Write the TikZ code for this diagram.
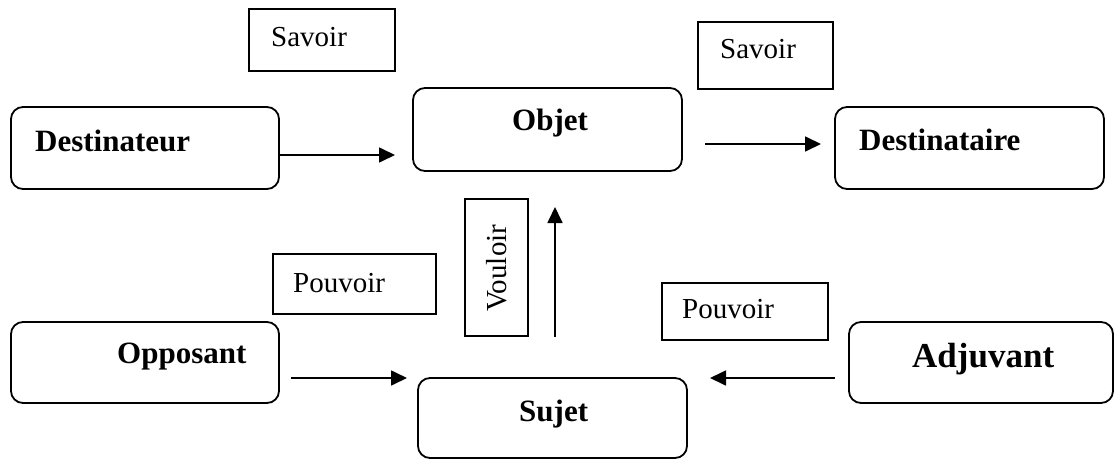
\documentclass[tikz,border=0pt]{standalone}
\usepackage{fontspec}
\setmainfont{Liberation Serif}
\usetikzlibrary{arrows.meta}
\tikzset{
  rbox/.style={draw, line width=1.8pt, rounded corners=12pt, inner sep=0pt},
  sbox/.style={draw, line width=1.8pt, inner sep=0pt},
  blbl/.style={inner sep=0pt, anchor=base west, font=\fontsize{31}{35}\selectfont\bfseries},
  rlbl/.style={inner sep=0pt, anchor=base west, font=\fontsize{29}{33}\selectfont},
  arr/.style={line width=1.7pt, -{Triangle[length=16pt,width=15pt]}}
}
\begin{document}
\begin{tikzpicture}[x=1pt,y=-1pt]
\useasboundingbox (0,0) rectangle (1115,460);
% rounded boxes
\node[rbox, minimum width=268pt, minimum height=82pt] (dest) at (145,148) {};
\node[rbox, minimum width=269pt, minimum height=83pt] (obj) at (547.5,129.5) {};
\node[rbox, minimum width=269pt, minimum height=82pt] (desta) at (969.5,148) {};
\node[rbox, minimum width=268pt, minimum height=81pt] (opp) at (145,362.5) {};
\node[rbox, minimum width=269pt, minimum height=80pt] (suj) at (552.5,418) {};
\node[rbox, minimum width=264pt, minimum height=81pt] (adj) at (981,362.5) {};
% square boxes
\node[sbox, minimum width=146pt, minimum height=62pt] (sav1) at (322,40) {};
\node[sbox, minimum width=135pt, minimum height=67pt] (sav2) at (765.5,55.5) {};
\node[sbox, minimum width=163pt, minimum height=60pt] (pou1) at (354.5,284) {};
\node[sbox, minimum width=166pt, minimum height=57pt] (pou2) at (745,311.5) {};
\node[sbox, minimum width=63pt, minimum height=137pt] (vou) at (496.5,267.5) {};
% labels
\node[blbl] (tdest) at (35,151) {Destinateur};
\node[blbl] (tobj) at (512,130) {Objet};
\node[blbl] (tdesta) at (859,150) {Destinataire};
\node[blbl] (topp) at (117,363) {Opposant};
\node[blbl] (tsuj) at (519,421) {Sujet};
\node[blbl, font=\fontsize{35}{40}\selectfont\bfseries] (tadj) at (912,367) {Adjuvant};
\node[rlbl] (tsav1) at (271,47) {Savoir};
\node[rlbl] (tsav2) at (720,59) {Savoir};
\node[rlbl] (tpou1) at (293,292) {Pouvoir};
\node[rlbl] (tpou2) at (682,318) {Pouvoir};
\node[inner sep=0pt, rotate=90, font=\fontsize{29}{33}\selectfont] (tvou) at (497,268) {Vouloir};
% arrow end points
\coordinate (a1s) at (279,155); \coordinate (a1e) at (395,155);
\coordinate (a2s) at (705,144); \coordinate (a2e) at (821,144);
\coordinate (a3s) at (555,337); \coordinate (a3e) at (555,207);
\coordinate (a4s) at (291,378); \coordinate (a4e) at (407,378);
\coordinate (a5s) at (835,378); \coordinate (a5e) at (710,378);
\draw[arr] (a1s) -- (a1e);
\draw[arr] (a2s) -- (a2e);
\draw[arr] (a3s) -- (a3e);
\draw[arr] (a4s) -- (a4e);
\draw[arr] (a5s) -- (a5e);
\end{tikzpicture}
\end{document}
